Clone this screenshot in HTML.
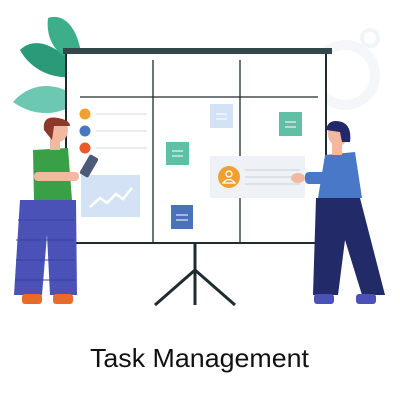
<!DOCTYPE html>
<html><head><meta charset="utf-8"><style>html,body{margin:0;padding:0;background:#fff}svg{display:block}</style></head>
<body>
<svg width="400" height="400" viewBox="0 0 400 400" xmlns="http://www.w3.org/2000/svg">
<!-- gear faint -->
<circle cx="345" cy="75" r="30" fill="none" stroke="#f5f6f9" stroke-width="10"/>
<circle cx="370" cy="38" r="8" fill="none" stroke="#f3f4f7" stroke-width="4"/>
<!-- leaves -->
<path d="M82 75 C60 45 35 35 20 50 C32 72 58 82 82 75Z" fill="#2a9a78"/>
<path d="M82 62 C80 30 65 12 48 18 C45 45 62 60 82 62Z" fill="#3cae8a"/>
<path d="M80 100 C58 80 30 82 13 102 C35 118 62 116 80 100Z" fill="#6cc8b0"/>
<!-- stand -->
<g stroke="#1f2b2e" stroke-width="3" fill="none">
<line x1="195" y1="243" x2="195" y2="305"/>
<line x1="195" y1="270" x2="155" y2="305"/>
<line x1="195" y1="270" x2="235" y2="305"/>
</g>
<!-- board -->
<rect x="66" y="53" width="260" height="190" fill="#fff" stroke="#1f2b2e" stroke-width="2"/>
<rect x="63" y="48" width="269" height="6" fill="#33474c"/>
<g stroke="#1f2b2e" stroke-width="1.3">
<line x1="153" y1="60" x2="153" y2="243"/>
<line x1="240" y1="60" x2="240" y2="243"/>
<line x1="80" y1="97" x2="318" y2="97"/>
</g>
<!-- list -->
<circle cx="85" cy="114" r="5.5" fill="#f0a030"/>
<circle cx="85" cy="131" r="5.5" fill="#4a78c0"/>
<circle cx="85" cy="148" r="5.5" fill="#e85a2a"/>
<g stroke="#e8ebef" stroke-width="2"><line x1="96" y1="114" x2="147" y2="114"/><line x1="96" y1="131" x2="147" y2="131"/><line x1="96" y1="148" x2="147" y2="148"/></g>
<!-- chart -->
<rect x="81" y="175" width="59" height="42" fill="#d3e3f5"/>
<polyline points="90,207 100,198 107,203 116,194 123,199 132,188" fill="none" stroke="#fff" stroke-width="2.5"/>
<!-- notes -->
<rect x="166" y="142" width="23" height="23" fill="#5fc0a5"/>
<rect x="210" y="104" width="23" height="24" fill="#d3e3f5"/>
<rect x="279" y="112" width="23" height="24" fill="#5fc0a5"/>
<rect x="171" y="205" width="22" height="24" fill="#4a72b8"/>
<g stroke="#fff" stroke-width="1"><line x1="172" y1="151" x2="183" y2="151"/><line x1="172" y1="156" x2="183" y2="156"/><line x1="285" y1="122" x2="296" y2="122"/><line x1="285" y1="127" x2="296" y2="127"/><line x1="176" y1="215" x2="188" y2="215"/><line x1="176" y1="220" x2="188" y2="220"/><line x1="216" y1="114" x2="227" y2="114"/><line x1="216" y1="119" x2="227" y2="119"/></g>
<!-- card -->
<rect x="210" y="156" width="95" height="42" fill="#eef2f6"/>
<circle cx="229" cy="177" r="11" fill="#f0a030"/>
<circle cx="229" cy="174" r="3" fill="none" stroke="#fff" stroke-width="1.3"/>
<path d="M223 183 Q229 176 235 183Z" fill="none" stroke="#fff" stroke-width="1.3"/>
<g stroke="#d6dbe2" stroke-width="1.5"><line x1="245" y1="170" x2="300" y2="170"/><line x1="245" y1="177" x2="300" y2="177"/><line x1="245" y1="184" x2="300" y2="184"/></g>
<!-- left man -->
<path d="M20 200 L76 200 L77 295 L50 295 L47 235 L42 295 L14 295 Z" fill="#4a52b8"/>
<g stroke="#3a40a0" stroke-width="1"><line x1="18" y1="220" x2="74" y2="220"/><line x1="16" y1="240" x2="74" y2="240"/><line x1="16" y1="260" x2="75" y2="260"/><line x1="15" y1="280" x2="76" y2="280"/></g>
<rect x="22" y="294" width="20" height="10" rx="3" fill="#e86a2c"/>
<rect x="53" y="294" width="20" height="10" rx="3" fill="#e86a2c"/>
<path d="M33 150 L68 148 L72 200 L34 200 Z" fill="#3aa048"/>
<rect x="34" y="172" width="45" height="9" rx="4" fill="#f2b8a0"/>
<rect x="50" y="132" width="10" height="18" fill="#f2b8a0"/>
<ellipse cx="58" cy="130" rx="10" ry="12" fill="#f2b8a0"/>
<path d="M44 130 Q42 115 58 118 Q70 120 70 126 L54 126 L52 140 Z" fill="#8a3a2a"/>
<rect x="84" y="155" width="10" height="22" rx="2" fill="#4a5a78" transform="rotate(30 89 166)"/>
<!-- right man -->
<path d="M316 198 L360 198 L385 295 L362 295 L345 240 L338 295 L313 295 Z" fill="#222a68"/>
<rect x="314" y="294" width="20" height="10" rx="3" fill="#4a52b8"/>
<rect x="356" y="294" width="20" height="10" rx="3" fill="#4a52b8"/>
<path d="M325 155 L355 152 L362 198 L318 198 Z" fill="#4a78c8"/>
<rect x="305" y="172" width="35" height="12" rx="4" fill="#4a78c8"/>
<ellipse cx="298" cy="178" rx="7" ry="5" fill="#f2b8a0"/>
<rect x="332" y="140" width="10" height="15" fill="#f2b8a0"/>
<ellipse cx="338" cy="134" rx="10" ry="12" fill="#f2b8a0"/>
<path d="M326 130 Q328 118 342 122 Q352 126 350 142 L342 142 L340 132 Z" fill="#22286a"/>
<text x="90" y="367" font-family="Liberation Sans, sans-serif" font-size="26" fill="#111" textLength="219" lengthAdjust="spacingAndGlyphs">Task Management</text>
</svg>
</body></html>
